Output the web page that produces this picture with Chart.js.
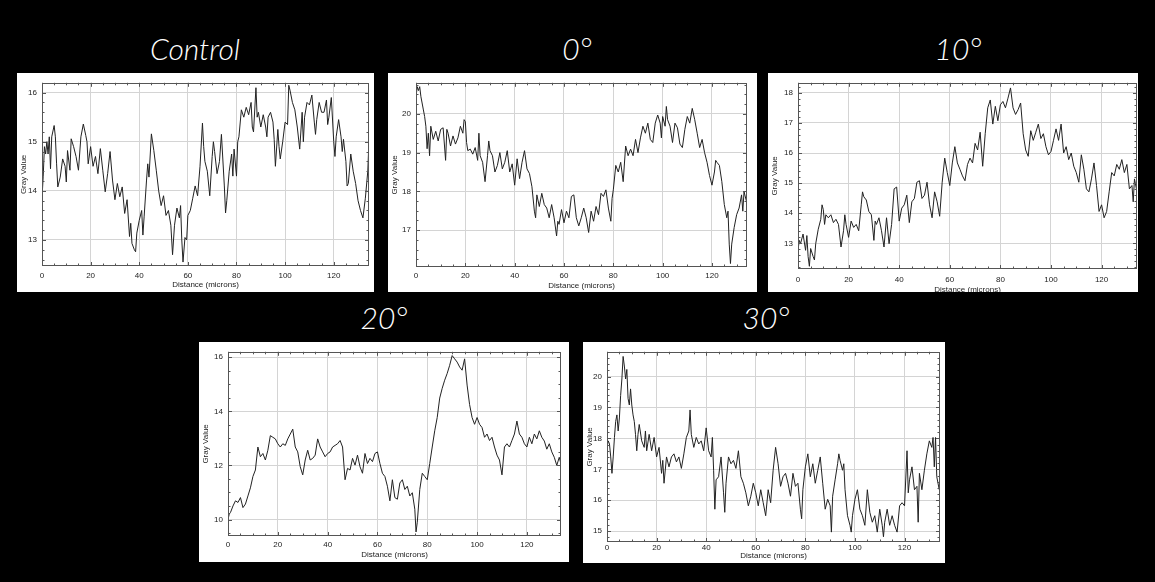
<!DOCTYPE html>
<html>
<head>
<meta charset="utf-8">
<script src="https://cdn.jsdelivr.net/npm/chart.js@4.4.1/dist/chart.umd.min.js"></script>
<style>
  html, body { margin: 0; padding: 0; background: #000; }
  body { width: 1155px; height: 582px; position: relative; overflow: hidden; }
  .title { position: absolute; color: #fff; font: italic 300 30px Lato, "Open Sans", sans-serif; transform: translateX(-50%); white-space: nowrap; line-height: 30px; }
  .panel { position: absolute; background: #fff; overflow: hidden; }
  .panel div { position: absolute; left: 0; top: 0; }
</style>
</head>
<body>
<script>
// profile data: distance (microns) / gray value
const controlX = [0,0.5,1,1.5,2,2.5,3,3.5,4,5,5.5,6,6.5,7.5,8.5,9.5,10,10.5,11.5,12,13,14,15,16,17,18,18.5,19,20,21,22,23,24,25,26,27,28,29,30,31,32,33,34,35,36,36.5,37,38,38.5,39,40,41,41.5,42,43,43.5,44,45,46,47,48,49,50,51,52,53,53.7,54.5,55.5,56.5,57,57.5,58,58.8,59.5,60,61,62,63,64,65,66,66.5,67,68,69,70,70.5,71,72,73,73.8,75,75.5,76,77,78,78.5,79,80,80.5,81,82,83,84,85,86,86.5,87,88,88.5,89,90,91,92,92.5,93,94,95,95.5,96,97,97.5,98,99,100,101,101.5,102,103,104,105,106,107,107.5,108,109,110,111,112,112.5,113,114,115,116,117,117.5,118,119,120,120.5,121,122,123,123.5,124,125,125.5,126,127,128,129,130,131,132,133,134,134.5];
const controlY = [13.85,14.3,14.9,14.75,15.0,14.75,15.1,14.45,15.1,15.33,15.1,14.55,14.08,14.28,14.65,14.5,14.18,14.82,14.42,15.06,14.9,14.7,14.42,15.1,15.36,15.13,15.0,14.55,14.9,14.5,14.7,14.35,14.86,14.42,13.98,14.35,14.8,14.22,13.82,14.15,13.88,14.08,13.54,13.82,13.07,13.34,12.93,12.8,12.76,13.14,13.4,13.6,13.1,13.47,14.22,14.55,14.28,15.16,14.82,14.42,14.0,13.7,13.9,13.5,13.6,13.3,12.7,13.3,13.65,13.45,13.7,13.0,12.55,13.05,13.0,13.5,13.6,13.85,14.1,13.9,14.5,15.38,14.9,14.6,14.4,13.9,14.7,15.0,14.8,14.35,14.6,15.15,14.1,13.55,13.8,14.4,14.75,14.3,14.85,14.3,15.0,15.1,15.65,15.5,15.7,15.55,15.8,15.3,15.2,16.1,15.5,15.6,15.3,15.55,15.3,15.1,15.5,15.6,15.4,15.05,14.5,15.25,14.9,14.65,15.0,15.4,15.35,16.15,16.05,15.8,15.65,15.3,14.85,15.6,15.0,15.5,15.8,15.75,15.95,15.4,15.15,15.45,15.8,15.6,15.6,15.85,15.35,15.5,15.9,15.0,14.7,15.1,15.45,15.1,14.8,15.05,14.6,14.1,14.15,14.75,14.4,14.15,13.8,13.6,13.45,13.85,14.4,15.05];

const deg0X = [0,0.5,1,1.5,2,3,3.5,4,4.5,5,5.5,6,7,8,9,10,11,12,12.5,13,14,15,16,17,18,19,19.5,20,20.5,21,22,23,24,25,25.5,26,27,28,29,29.5,30,31,32,33,34,35,36,37,38,39,40,41,42,43,44,45,46,47,48,48.5,49,50,51,52,53,54,55,56,57,57.5,58,59,60,61,62,63,64,65,66,67,68,69,70,71,72,73,74,75,76,77,78,79,79.5,80,81,82,83,84,85,86,87,88,89,90,91,92,93,94,95,96,97,98,99,99.5,100,101,101.5,102,103,104,105,106,107,108,109,110,111,112,113,114,115,116,117,118,119,120,121,121.5,122,123,124,125,126,126.5,127,127.5,128,129,130,131,132,132.5,133,134];
const deg0Y = [20.44,20.7,20.6,20.7,20.44,20.1,19.93,19.68,19.1,19.5,18.92,19.68,19.34,19.55,19.3,19.6,19.64,18.8,19.6,19.5,19.17,19.43,19.22,19.38,19.68,19.5,19.85,19.8,19.26,19.05,19.09,18.96,19.13,18.8,19.5,18.92,18.75,18.25,18.92,19.3,19.05,18.92,18.5,18.67,19.0,18.58,18.75,19.05,18.5,18.71,18.16,18.84,18.33,18.75,19.05,18.58,18.46,18.12,17.49,17.32,17.91,17.61,17.95,17.66,17.57,17.32,17.66,17.32,16.85,17.23,17.15,17.53,17.19,17.49,17.32,17.87,17.91,17.32,17.11,17.32,17.57,17.32,16.94,17.49,17.23,17.61,17.4,17.95,17.87,18.04,17.57,17.23,17.82,18.04,18.67,18.5,18.75,18.25,19.17,18.92,19.09,18.92,19.34,19.0,19.38,19.68,19.5,19.76,19.34,19.26,19.76,19.97,19.76,19.38,19.93,19.68,20.19,19.85,19.68,19.26,19.76,19.64,19.22,19.13,19.6,19.93,19.76,20.14,19.85,19.5,19.13,19.34,19.0,18.75,18.41,18.16,18.5,18.8,18.75,18.67,18.25,17.66,17.32,17.49,16.64,16.14,16.64,17.07,17.4,17.57,17.91,17.49,17.99,17.74];

const deg10X = [0,0.5,1,2,3,3.5,4,4.5,5,6,6.5,7,8,9,9.5,10,10.5,11,12,13,14,15,16,17,18,18.5,19,20,21,22,23,24,25,25.5,26,27,28,29,30,30.5,31,32,33,34,35,36,37,38,39,40,41,42,43,44,45,46,47,48,49,50,51,52,53,54,55,56,57,58,59,60,61,62,63,64,65,66,67,68,69,70,71,72,73,74,75,76,77,78,79,80,81,82,83,84,85,86,87,88,89,90,91,92,93,94,95,96,97,98,99,100,101,102,103,104,105,106,107,108,109,110,111,112,113,114,115,116,117,118,119,120,121,122,123,124,125,126,127,128,129,130,131,132,132.5,133,134];
const deg10Y = [12.77,13.1,12.99,13.31,12.77,13.26,12.56,12.24,12.83,12.56,12.45,12.99,13.47,13.8,14.28,14.12,13.63,13.95,13.85,13.95,13.69,13.8,13.63,12.88,13.42,13.95,13.63,13.2,13.74,13.53,13.63,13.42,14.28,14.71,14.55,14.44,14.06,13.95,13.1,13.74,13.63,13.85,13.42,12.88,13.85,12.99,13.63,14.81,14.87,13.74,14.17,14.28,14.6,13.69,14.38,14.49,15.03,15.08,14.49,14.6,15.03,14.28,13.85,14.71,14.38,13.9,15.03,15.83,15.35,14.92,15.67,16.21,15.67,15.46,15.24,15.08,15.62,15.83,15.67,16.32,16.1,16.69,15.56,16.64,17.5,17.76,16.96,17.55,17.07,17.6,17.71,17.5,17.82,18.16,17.5,17.28,17.44,17.66,16.64,16.1,15.89,16.74,16.42,16.69,16.96,16.48,16.64,16.21,15.94,16.05,16.42,16.8,16.42,16.96,16.0,16.21,15.78,16.0,15.56,15.35,15.03,15.94,15.46,14.81,14.71,15.14,15.67,14.92,14.06,14.28,13.85,14.06,14.71,15.35,15.24,15.62,15.46,15.78,15.35,15.62,14.81,14.92,14.38,15.14,14.71];

const deg20X = [0,0.5,1,2,3,4,5,6,7,8,9,10,11,12,13,14,15,16,17,18,19,20,21,22,23,24,25,26,27,28,29,30,31,32,33,34,35,36,37,38,39,40,41,42,43,44,45,46,47,48,49,50,51,52,53,54,55,56,57,58,59,60,61,62,63,64,65,66,67,68,69,70,71,72,73,74,75,75.5,76,77,78,79,80,81,82,83,84,85,86,87,88,89,90,91,92,93,94,95,96,97,98,99,100,101,102,103,104,105,106,107,108,109,110,111,112,113,114,115,116,117,118,119,120,121,122,123,124,125,126,127,128,129,130,131,132,133,133.7];
const deg20Y = [10.0,10.2,10.26,10.5,10.69,10.63,10.81,10.44,10.57,10.87,11.17,11.59,11.83,12.68,12.32,12.44,12.2,12.56,13.1,13.04,12.98,12.8,12.68,12.8,12.74,12.98,13.16,13.34,12.68,12.5,11.95,11.65,12.2,12.56,12.2,12.26,12.38,12.98,12.68,12.5,12.32,12.44,12.5,12.68,12.74,12.8,12.92,12.68,11.47,11.89,11.83,12.26,12.01,12.38,11.95,11.71,12.44,12.07,12.26,12.14,12.44,12.5,12.07,11.71,11.59,11.23,10.69,11.47,10.81,10.75,11.35,11.47,11.11,11.23,10.87,10.99,10.38,9.54,9.9,11.11,11.71,11.59,11.47,12.07,12.68,13.28,13.77,14.49,14.85,15.15,15.4,15.7,16.06,15.94,15.82,15.64,15.52,15.94,14.97,14.25,13.77,13.52,13.77,13.52,13.4,13.04,13.16,12.92,13.04,12.68,12.38,12.2,11.65,12.68,12.8,12.68,12.92,13.16,13.64,13.16,13.04,12.8,12.68,13.04,12.8,13.16,12.98,13.28,13.04,12.9,12.6,12.8,12.5,12.3,12.0,12.3,12.05];

const deg30X = [0,0.5,1,1.5,2,2.5,3,3.5,4,4.5,5,5.5,6,6.5,7,7.5,8,8.5,9,9.5,10,10.5,11,11.5,12,12.5,13,14,15,15.5,16,17,18,19,20,21,22,22.5,23,24,25,26,27,28,29,30,31,32,33,33.5,34,35,36,37,38,39,40,41,42,42.5,43,43.5,44,45,46,47,47.5,48,49,50,51,52,53,54,55,56,57,58,59,60,61,62,63,64,65,66,67,68,69,70,71,72,73,74,75,76,77,78,78.5,79,80,81,82,83,84,85,86,87,88,89,90,90.5,91,92,93,93.5,94,95,95.5,96,97,98,98.5,99,100,101,102,103,104,105,106,107,108,109,110,111,111.5,112,113,114,115,116,117,118,119,120,121,121.5,122,123,124,125,125.5,126,127,128,129,130,131,131.5,132,132.5,133,134];
const deg30Y = [17.71,17.92,17.82,17.4,16.87,17.4,18.03,18.55,18.76,18.24,18.66,19.39,19.92,20.65,20.34,19.92,20.23,19.29,19.08,19.6,19.08,18.76,18.55,18.13,17.6,18.13,18.45,17.92,17.71,18.24,17.6,18.13,17.6,18.03,17.4,17.71,16.87,17.29,16.55,17.4,17.08,17.4,17.5,17.24,17.4,17.03,17.5,18.03,18.24,18.92,18.13,17.71,18.03,17.82,17.92,17.6,18.34,17.6,17.4,18.03,16.97,15.71,16.66,16.76,17.4,16.24,15.61,16.55,17.4,17.18,17.29,17.03,17.6,16.76,16.55,16.24,15.82,16.13,16.55,16.24,15.82,16.34,15.92,15.5,16.34,15.92,16.97,17.71,17.18,16.45,16.76,16.87,16.55,16.13,16.87,16.45,16.55,15.71,15.4,16.34,17.08,17.5,16.76,17.18,16.55,16.97,17.4,16.55,15.71,16.03,15.82,14.97,16.13,16.66,17.18,17.5,17.29,16.97,17.18,16.34,15.5,15.19,14.97,15.5,16.03,16.34,15.71,15.5,15.19,16.34,15.61,15.29,15.5,14.97,15.71,15.19,14.82,15.29,15.71,15.19,15.5,15.19,14.97,15.82,15.92,15.82,17.6,16.24,16.66,17.08,16.34,16.45,15.29,16.87,16.34,16.97,17.5,17.92,17.71,18.03,17.08,18.03,16.76,16.34];

const xTicks = [0, 20, 40, 60, 80, 100, 120];
const controlTicks = [13, 14, 15, 16];
const deg0Ticks = [17, 18, 19, 20];
const deg10Ticks = [13, 14, 15, 16, 17, 18];
const deg20Ticks = [10, 12, 14, 16];
const deg30Ticks = [15, 16, 17, 18, 19, 20];

// panel box and plot rectangle are page coordinates
const panels = [
  { title: "Control", tx: 195, ty: 33, xs: controlX, ys: controlY, yTicks: controlTicks, yMin: 12.47, yMax: 16.2, xMax: 134.5, minorY: 0.2,
    box: [17, 73, 357, 219], plot: [42, 82, 369, 266], h: 219, tickPad: 5, titlePad: 2 },
  { title: "0°", tx: 577, ty: 33, xs: deg0X, ys: deg0Y, yTicks: deg0Ticks, yMin: 16.05, yMax: 20.8, xMax: 134.2, minorY: 0.25,
    box: [388, 73, 369, 219], plot: [416, 79, 747, 267], h: 219, tickPad: 4, titlePad: 1 },
  { title: "10°", tx: 958, ty: 33, xs: deg10X, ys: deg10Y, yTicks: deg10Ticks, yMin: 12.15, yMax: 18.33, xMax: 134, minorY: 0.2,
    box: [768, 73, 370, 219], plot: [798, 77, 1137, 269], h: 222, tickPad: 6, titlePad: 0 },
  { title: "20°", tx: 384, ty: 302, xs: deg20X, ys: deg20Y, yTicks: deg20Ticks, yMin: 9.39, yMax: 16.2, xMax: 133.7, minorY: 0.5,
    box: [199, 342, 370, 220], plot: [228, 348, 561, 536], h: 220, tickPad: 4, titlePad: 2 },
  { title: "30°", tx: 766, ty: 302, xs: deg30X, ys: deg30Y, yTicks: deg30Ticks, yMin: 14.65, yMax: 20.8, xMax: 134.3, minorY: 0.2,
    box: [583, 342, 362, 221], plot: [607, 347, 940, 542], h: 221, tickPad: 1, titlePad: 2 },
];

// frame + inward ticks on all four sides, like the ImageJ plot window
const frameTicks = {
  id: "frameTicks",
  afterDraw(chart, args, opts) {
    const { ctx, chartArea: a, scales: { x, y } } = chart;
    ctx.save();
    ctx.strokeStyle = "#555";
    ctx.lineWidth = 1;
    ctx.beginPath();
    const tick = (px, py, dx, dy) => { ctx.moveTo(px, py); ctx.lineTo(px + dx, py + dy); };
    for (let v = 0; v <= x.max; v += 5) {
      const px = Math.round(x.getPixelForValue(v)) + 0.5;
      const len = v % 20 === 0 ? 4 : 2.5;
      tick(px, a.bottom, 0, -len);
      tick(px, a.top, 0, len);
    }
    const step = opts.minorY;
    for (let v = Math.ceil(y.min / step) * step; v <= y.max; v += step) {
      const py = Math.round(y.getPixelForValue(v)) + 0.5;
      const major = opts.ticks.some(t => Math.abs(t - v) < 1e-6);
      const len = major ? 4 : 2.5;
      tick(a.left, py, len, 0);
      tick(a.right, py, -len, 0);
    }
    ctx.stroke();
    ctx.strokeRect(Math.round(a.left) + 0.5, Math.round(a.top) + 0.5, Math.round(a.right - a.left) - 1, Math.round(a.bottom - a.top) - 1);
    ctx.restore();
  },
};

const labelFont = { family: "'Liberation Sans', Arial, sans-serif", size: 8 };

panels.forEach(p => {
  const t = document.createElement("div");
  t.className = "title";
  t.textContent = p.title;
  t.style.left = p.tx + "px";
  t.style.top = p.ty + "px";
  document.body.appendChild(t);

  const [bl, bt, bw, bh] = p.box;
  const [pl, pt, pr, pb] = p.plot;
  const panel = document.createElement("div");
  panel.className = "panel";
  Object.assign(panel.style, { left: bl + "px", top: bt + "px", width: bw + "px", height: bh + "px" });
  const wrap = document.createElement("div");
  Object.assign(wrap.style, { width: bw + "px", height: p.h + "px" });
  const canvas = document.createElement("canvas");
  wrap.appendChild(canvas);
  panel.appendChild(wrap);
  document.body.appendChild(panel);

  const yWidth = pl - bl;
  const xHeight = p.h - (pb - bt);

  new Chart(canvas, {
    type: "line",
    data: {
      datasets: [{
        data: p.xs.map((x, i) => ({ x, y: p.ys[i] })),
        borderColor: "#222",
        borderWidth: 1,
        pointRadius: 0,
        tension: 0,
      }],
    },
    options: {
      responsive: true,
      maintainAspectRatio: false,
      devicePixelRatio: 1,
      animation: false,
      layout: { padding: { left: 0, top: pt - bt, right: bl + bw - pr, bottom: 0 } },
      plugins: { legend: { display: false }, tooltip: { enabled: false }, frameTicks: { minorY: p.minorY, ticks: p.yTicks } },
      scales: {
        x: {
          type: "linear",
          min: 0,
          max: p.xMax,
          afterBuildTicks: s => { s.ticks = xTicks.map(v => ({ value: v })); },
          afterFit: s => { s.height = xHeight; },
          grid: { color: "#d4d4d4", drawTicks: false },
          border: { display: false },
          ticks: { color: "#222", font: labelFont, padding: p.tickPad, maxRotation: 0 },
          title: { display: true, text: "Distance (microns)", color: "#222", font: labelFont, padding: { top: 0, bottom: p.titlePad } },
        },
        y: {
          min: p.yMin,
          max: p.yMax,
          afterBuildTicks: s => { s.ticks = p.yTicks.map(v => ({ value: v })); },
          afterFit: s => { s.width = yWidth; },
          grid: { color: "#d4d4d4", drawTicks: false },
          border: { display: false },
          ticks: { color: "#222", font: labelFont, padding: 5 },
          title: { display: true, text: "Gray Value", color: "#222", font: labelFont, padding: { top: 2, bottom: 0 } },
        },
      },
    },
    plugins: [frameTicks],
  });
});
</script>
</body>
</html>
